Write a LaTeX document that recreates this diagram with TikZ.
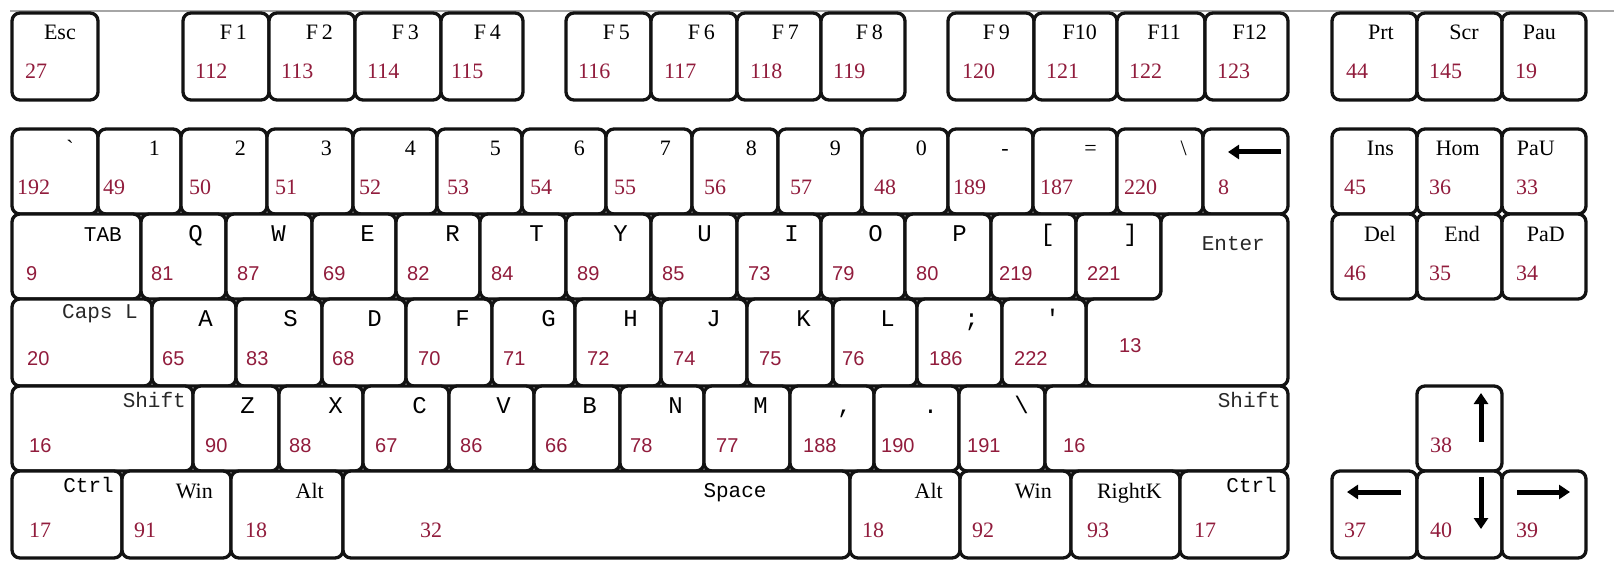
\documentclass[tikz,border=0pt]{standalone}
\usepackage{fontspec}
\setmainfont{Liberation Serif}
\newfontfamily\serifkey{Liberation Serif}
\newfontfamily\monokey{Liberation Mono}
\newfontfamily\sanskey{Liberation Sans}
\usetikzlibrary{arrows.meta}
\definecolor{codered}{RGB}{145,28,60}
\definecolor{keyedge}{RGB}{18,18,18}
\definecolor{namegray}{RGB}{40,40,40}

\def\nserif{\serifkey\fontsize{22}{22}\selectfont}
\def\nmono{\monokey\fontsize{21}{21}\selectfont}
\def\nmonoL{\monokey\fontsize{24}{24}\selectfont}
\def\cserif{\serifkey\fontsize{22}{22}\selectfont}
\def\csans{\sanskey\fontsize{20}{20}\selectfont}
\let\keynamefont\nserif
\let\keycodefont\cserif
\def\ky{13}\def\kh{87}\def\nameraise{0}

\tikzset{
  keybox/.style={draw=keyedge, fill=white, line width=3.3pt, rounded corners=8pt, inner sep=0pt, outer sep=0pt},
  keyname/.style={font=\keynamefont, inner sep=0pt, text=black},
  keycode/.style={font=\keycodefont, inner sep=0pt, text=codered},
  glyph/.style={line width=5pt, draw=black, -{Triangle[length=11pt,width=14pt]}},
  topline/.style={draw=gray!70, line width=2pt},
}

% #1 name offset from right, #2 x1, #3 x2, #4 id, #5 name, #6 code, #7 code offset
\newcommand{\kc}[7][22]{%
  \node[keybox, minimum width={#3-#2}, minimum height={\kh}] (#4) at ({(#2+#3)/2},{\ky+\kh/2}) {};
  \node[keyname, anchor=base east] (#4-n) at ({#3-#1},{\ky+27-\nameraise}) {#5};
  \node[keycode, anchor=base west] (#4-c) at ({#2+#7},{\ky+66}) {#6};
}

\begin{document}
\begin{tikzpicture}[x=1pt,y=-1pt]
\useasboundingbox (0,0) rectangle (1614,572);
\coordinate (tl) at (10,11);
\coordinate (tr) at (1614,11);
\draw[topline] (tl) -- (tr);

% ---------- function row ----------
\def\ky{13}\def\kh{87}
\let\keynamefont\nserif \let\keycodefont\cserif
\kc[22]{12}{98}{esc}{Esc}{27}{13}
\kc[22]{183}{269}{f1}{F\,1}{112}{12}
\kc[22]{269}{355}{f2}{F\,2}{113}{12}
\kc[22]{355}{441}{f3}{F\,3}{114}{12}
\kc[22]{441}{523}{f4}{F\,4}{115}{10}
\kc[21]{566}{651}{f5}{F\,5}{116}{12}
\kc[22]{651}{737}{f6}{F\,6}{117}{13}
\kc[22]{737}{821}{f7}{F\,7}{118}{13}
\kc[22]{821}{905}{f8}{F\,8}{119}{12}
\kc[24]{948}{1034}{f9}{F\,9}{120}{14}
\kc[20]{1034}{1117}{f10}{F10}{121}{12}
\kc[24]{1117}{1205}{f11}{F11}{122}{12}
\kc[21]{1205}{1288}{f12}{F12}{123}{12}
\kc[23]{1332}{1417}{prt}{Prt}{44}{14}
\kc[23]{1417}{1502}{scr}{Scr}{145}{12}
\kc[30]{1502}{1586}{pau}{Pau}{19}{13}

% ---------- number row ----------
\def\ky{129}\def\kh{85}
\kc[24]{12}{98}{grave}{\char"60}{192}{5}
\kc[21]{98}{181}{n1}{1}{49}{5}
\kc[21]{181}{267}{n2}{2}{50}{8}
\kc[21]{267}{353}{n3}{3}{51}{8}
\kc[21]{353}{437}{n4}{4}{52}{6}
\kc[21]{437}{522}{n5}{5}{53}{10}
\kc[21]{522}{606}{n6}{6}{54}{8}
\kc[21]{606}{692}{n7}{7}{55}{8}
\kc[21]{692}{778}{n8}{8}{56}{12}
\kc[21]{778}{862}{n9}{9}{57}{12}
\kc[21]{862}{948}{n0}{0}{48}{12}
\kc[24]{948}{1033}{minus}{-}{189}{5}
\kc[20]{1033}{1117}{equal}{=}{187}{7}
\kc[16]{1117}{1203}{bslash}{\char"5C}{220}{7}
\kc{1203}{1288}{bksp}{}{8}{15}
\kc[23]{1332}{1417}{ins}{Ins}{45}{12}
\kc[22]{1417}{1502}{hom}{Hom}{36}{12}
\kc[31]{1502}{1586}{pgu}{PaU}{33}{14}
\coordinate (bkspA) at (1281,152);
\coordinate (bkspB) at (1228,152);
\draw[glyph] (bkspA) -- (bkspB);

% ---------- qwerty row ----------
\def\ky{214}\def\kh{85}
\let\keycodefont\csans
\let\keynamefont\nmono
\kc[19]{12}{141}{tab}{TAB}{9}{14}
\let\keynamefont\nmonoL
\kc[23]{141}{226}{q}{Q}{81}{10}
\kc[26]{226}{312}{w}{W}{87}{11}
\kc[21]{312}{396}{e}{E}{69}{11}
\kc[20]{396}{480}{r}{R}{82}{11}
\kc[22]{480}{566}{t}{T}{84}{11}
\kc[23]{566}{651}{y}{Y}{89}{11}
\kc[25]{651}{737}{u}{U}{85}{11}
\kc[22]{737}{821}{i}{I}{73}{11}
\kc[22]{821}{905}{o}{O}{79}{11}
\kc[24]{905}{991}{p}{P}{80}{11}
\kc[21]{991}{1076}{lbr}{[}{219}{8}
\kc[23]{1076}{1161}{rbr}{]}{221}{11}
\let\keynamefont\nserif \let\keycodefont\cserif
\kc[21]{1332}{1417}{del}{Del}{46}{12}
\kc[22]{1417}{1502}{end}{End}{35}{12}
\kc[21]{1502}{1586}{pgd}{PaD}{34}{14}

% enter key (L shape)
\draw[keybox] (1161,214) -- (1288,214) -- (1288,386) -- (1086,386) -- (1086,299) -- (1161,299) -- cycle;
\node[keyname, font=\nmono, text=namegray, anchor=base east] (enter-n) at (1265,251) {Enter};
\node[keycode, font=\csans, anchor=base west] (enter-c) at (1119,352) {13};

% ---------- asdf row ----------
\def\ky{299}\def\kh{87}
\let\keycodefont\csans
\let\keynamefont\nmono
\def\nameraise{8}
\kc[14]{12}{152}{caps}{\textcolor{namegray}{Caps L}}{20}{15}
\def\nameraise{0}
\let\keynamefont\nmonoL
\kc[23]{152}{236}{a}{A}{65}{10}
\kc[24]{236}{322}{s}{S}{83}{10}
\kc[24]{322}{406}{d}{D}{68}{10}
\kc[22]{406}{492}{f}{F}{70}{12}
\kc[19]{492}{575}{g}{G}{71}{11}
\kc[23]{575}{661}{h}{H}{72}{12}
\kc[26]{661}{747}{j}{J}{74}{12}
\kc[22]{747}{833}{k}{K}{75}{12}
\kc[22]{833}{917}{l}{L}{76}{9}
\kc[23]{917}{1002}{semi}{;}{186}{12}
\kc[26]{1002}{1086}{apos}{\char"27}{222}{12}

% ---------- shift row ----------
\def\ky{386}\def\kh{85}
\let\keynamefont\nmono
\def\nameraise{6}
\kc[7]{12}{193}{lsh}{\textcolor{namegray}{Shift}}{16}{17}
\def\nameraise{0}
\let\keynamefont\nmonoL
\kc[24]{193}{279}{z}{Z}{90}{12}
\kc[20]{279}{363}{x}{X}{88}{10}
\kc[22]{363}{449}{c}{C}{67}{12}
\kc[23]{449}{534}{v}{V}{86}{11}
\kc[23]{534}{620}{b}{B}{66}{11}
\kc[21]{620}{704}{nn}{N}{78}{10}
\kc[22]{704}{790}{m}{M}{77}{12}
\kc[22]{790}{874}{comma}{,}{188}{13}
\kc[21]{874}{959}{period}{.}{190}{7}
\kc[16]{959}{1045}{slash}{\char"5C}{191}{8}
\let\keynamefont\nmono
\def\nameraise{6}
\kc[7]{1045}{1288}{rsh}{\textcolor{namegray}{Shift}}{16}{18}
\def\nameraise{0}
\let\keynamefont\nserif \let\keycodefont\cserif
\kc[22]{1417}{1502}{up}{}{38}{13}
\coordinate (upA) at (1481,442);
\coordinate (upB) at (1481,393);
\draw[glyph] (upA) -- (upB);

% ---------- bottom row ----------
\def\ky{471}\def\kh{87}
\let\keynamefont\nmono \let\keycodefont\cserif
\def\nameraise{6}
\kc[8]{12}{122}{lctrl}{Ctrl}{17}{17}
\def\nameraise{0}
\let\keynamefont\nserif
\kc[18]{122}{231}{lwin}{Win}{91}{12}
\kc[19]{231}{343}{lalt}{Alt}{18}{14}
\node[keybox, minimum width=507, minimum height=87] (space) at (596.5,514.5) {};
\node[keyname, font=\nmono, anchor=base] (space-n) at (735,497) {Space};
\node[keycode, anchor=base west] (space-c) at (420,537) {32};
\kc[17]{850}{960}{ralt}{Alt}{18}{12}
\kc[19]{960}{1071}{rwin}{Win}{92}{12}
\kc[18]{1071}{1180}{menu}{RightK}{93}{16}
\let\keynamefont\nmono
\def\nameraise{6}
\kc[11]{1180}{1288}{rctrl}{Ctrl}{17}{14}
\def\nameraise{0}
\let\keynamefont\nserif
\kc{1332}{1417}{left}{}{37}{12}
\kc{1417}{1502}{down}{}{40}{13}
\kc{1502}{1586}{right}{}{39}{14}
\coordinate (ltA) at (1401,492);
\coordinate (ltB) at (1347,492);
\draw[glyph] (ltA) -- (ltB);
\coordinate (dnA) at (1481,477);
\coordinate (dnB) at (1481,529);
\draw[glyph] (dnA) -- (dnB);
\coordinate (rtA) at (1517,492);
\coordinate (rtB) at (1570,492);
\draw[glyph] (rtA) -- (rtB);
\end{tikzpicture}
\end{document}
